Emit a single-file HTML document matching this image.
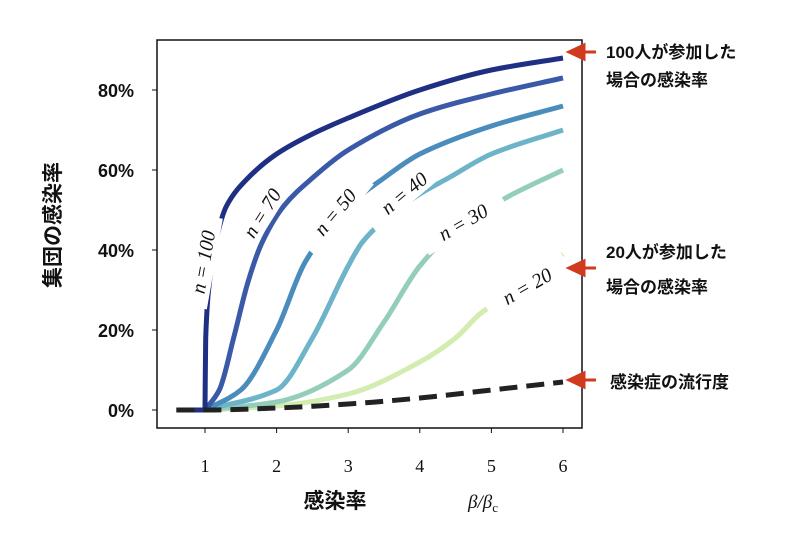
<!DOCTYPE html>
<html><head><meta charset="utf-8"><style>
body{margin:0;background:#fff;width:800px;height:537px;overflow:hidden}
svg{display:block}
.yt{font:bold 18px "Liberation Sans","Noto Sans CJK JP",sans-serif;fill:#111}
.xt{font:18px "Liberation Serif",serif;fill:#111}
.jp{font:bold 17px "Liberation Sans","Noto Sans CJK JP",sans-serif;fill:#111}
.lab{font:italic 20px "Liberation Serif",serif;fill:#111}
</style></head><body>
<svg id="chart" width="800" height="537">
<rect x="157" y="40" width="425" height="388" fill="none" stroke="#111" stroke-width="1.5"/>
<g id="curves"></g><g id="labels"></g><g id="axes"></g>
<g>
<g fill="#d23a1e" stroke="#d23a1e" stroke-width="3">
<polygon points="569,52 584,45 584,59"/><line x1="584" y1="52" x2="596" y2="52"/>
<polygon points="569,268 584,261 584,275"/><line x1="584" y1="268" x2="596" y2="268"/>
<polygon points="569,380 584,373 584,387"/><line x1="584" y1="380" x2="596" y2="380"/>
</g>
<text class="jp" x="606" y="58">100人が参加した</text>
<text class="jp" x="606" y="86">場合の感染率</text>
<text class="jp" x="606" y="258">20人が参加した</text>
<text class="jp" x="606" y="293">場合の感染率</text>
<text class="jp" x="610" y="388">感染症の流行度</text>
</g>
<text class="jp" style="font-size:21px" transform="translate(60,225) rotate(-90)" text-anchor="middle">集団の感染率</text>
<text class="jp" style="font-size:21px" x="335" y="508" text-anchor="middle">感染率</text>
<text class="lab" style="font-size:19px" x="483" y="508" text-anchor="middle">β/β<tspan font-style="normal" font-size="13" dy="4">c</tspan></text>
</svg>
<script>
const xTicks=[1,2,3,4,5,6];
const yTicks=[0,20,40,60,80];
const yTickLabels=["0%","20%","40%","60%","80%"];
const seriesNames=["n = 100","n = 70","n = 50","n = 40","n = 30","n = 20"];
const s100x=[1,1.01,1.05,1.15,1.3,1.6,2,2.5,3,4,5,6];
const s100y=[0,18,30,42,51,58,64,69,73,80,85,88];
const s70x=[1,1.2,1.4,1.6,1.8,2.1,2.5,3,4,5,6];
const s70y=[0,5,18,32,42,51,58,65,74,79,83];
const s50x=[1,1.5,2,2.4,3,3.5,4,5,6];
const s50y=[0,5,20,37,51,58,64,71,76];
const s40x=[1,2,2.5,3,3.2,3.6,4,4.4,5,6];
const s40y=[0,5,18,36,42,49,54,58,64,70];
const s30x=[1,2,3,3.5,4,4.5,5.2,6];
const s30y=[0,2,10,22,36,45,53,60];
const s20x=[1,2,3,4,4.5,4.84,5.5,6];
const s20y=[0,1,4,12,18,24,32,39];
const epiX=[0.6,1,2,3,4,5,6];
const epiY=[0,0,0.5,1.5,3,5,7];
const X=v=>205+(v-1)*71.6, Y=p=>410-p*4;
const NS="http://www.w3.org/2000/svg";
const g=document.getElementById('curves'),L=document.getElementById('labels'),A=document.getElementById('axes');
function mk(t,a,p){const e=document.createElementNS(NS,t);for(const k in a)e.setAttribute(k,a[k]);p.appendChild(e);return e;}
function path(xs,ys){
 const px=xs.map(X),py=ys.map(Y),n=px.length;
 const d=[],m=[];
 for(let i=0;i<n-1;i++)d.push((py[i+1]-py[i])/(px[i+1]-px[i]));
 for(let i=0;i<n;i++){
  if(i===0)m.push(d[0]);else if(i===n-1)m.push(d[n-2]);
  else m.push(d[i-1]*d[i]<=0?0:2/(1/d[i-1]+1/d[i]));
 }
 let s="M"+px[0].toFixed(1)+","+py[0].toFixed(1);
 for(let i=0;i<n-1;i++){
  const h=(px[i+1]-px[i])/3;
  s+="C"+(px[i]+h).toFixed(1)+","+(py[i]+m[i]*h).toFixed(1)+" "+(px[i+1]-h).toFixed(1)+","+(py[i+1]-m[i+1]*h).toFixed(1)+" "+px[i+1].toFixed(1)+","+py[i+1].toFixed(1);
 }
 return s;
}
const sx=[s100x,s70x,s50x,s40x,s30x,s20x], sy=[s100y,s70y,s50y,s40y,s30y,s20y];
const cols=["#1e2f84","#3a5aa8","#4a8dbd","#6db4c8","#95cdbb","#d3ecb0"];
for(let i=5;i>=0;i--){
 const p=mk('path',{d:path(sx[i],sy[i]),fill:'none',stroke:cols[i],'stroke-width':5,'stroke-linejoin':'round'},g);
 
 
}
const fl=mk('path',{d:"M"+X(0.6)+","+Y(0)+"L"+X(1)+","+Y(0),stroke:'#1e2f84','stroke-width':5},g);


const ep=mk('path',{d:path(epiX,epiY),fill:'none',stroke:'#222','stroke-width':5,'stroke-dasharray':'18,9'},g);


const lp=[[203,262,-80],[262,213,-58],[335,212,-50],[404,193,-40],[463,222,-30],[527,286,-30]];
lp.forEach((q,i)=>{
 const gg=mk('g',{transform:`translate(${q[0]},${q[1]}) rotate(${q[2]})`},L);
 
 
 mk('rect',{x:-46,y:-14,width:92,height:26,fill:'#fff'},gg);
 const t=mk('text',{class:'lab','text-anchor':'middle',y:7},gg);t.textContent=seriesNames[i];
});
xTicks.forEach(v=>{
 const l=mk('line',{x1:X(v),x2:X(v),y1:428,y2:433,stroke:'#111'},A);
 
 
 const t=mk('text',{class:'xt',x:X(v),y:472,'text-anchor':'middle'},A);t.textContent=v;
 
 
});
yTicks.forEach((v,i)=>{
 const l=mk('line',{x1:152,x2:157,y1:Y(v),y2:Y(v),stroke:'#111'},A);
 
 
 const t=mk('text',{class:'yt',x:134,y:Y(v)+7,'text-anchor':'end'},A);t.textContent=yTickLabels[i];
 
 
});
</script>
</body></html>
